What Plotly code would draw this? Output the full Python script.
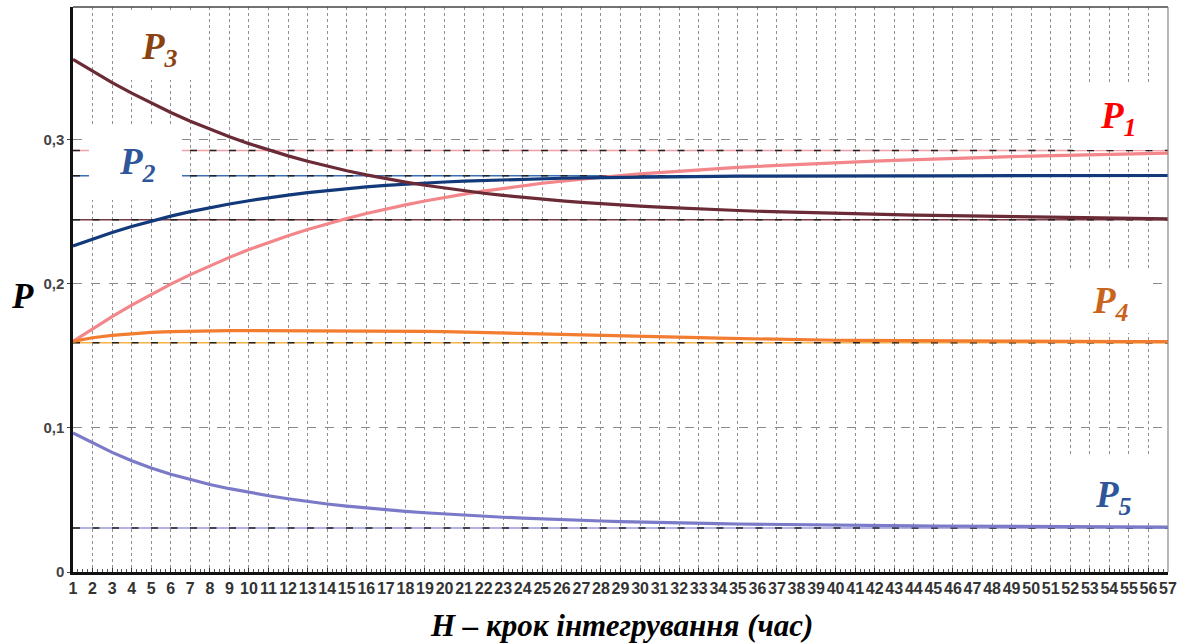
import plotly.graph_objects as go

steps = list(range(1, 58))

p1 = [0.1600, 0.1688, 0.1772, 0.1852, 0.1927, 0.1997, 0.2063, 0.2125, 0.2183, 0.2237,
      0.2287, 0.2333, 0.2376, 0.2416, 0.2453, 0.2487, 0.2518, 0.2547, 0.2574, 0.2599,
      0.2622, 0.2643, 0.2662, 0.2680, 0.2697, 0.2712, 0.2726, 0.2739, 0.2751, 0.2762,
      0.2772, 0.2782, 0.2791, 0.2799, 0.2807, 0.2814, 0.2821, 0.2828, 0.2834, 0.2840,
      0.2846, 0.2851, 0.2856, 0.2861, 0.2866, 0.2870, 0.2874, 0.2878, 0.2882, 0.2885,
      0.2888, 0.2891, 0.2894, 0.2897, 0.2900, 0.2903, 0.2906]

p2 = [0.2262, 0.2310, 0.2355, 0.2397, 0.2435, 0.2469, 0.2500, 0.2528, 0.2553, 0.2576,
      0.2597, 0.2615, 0.2632, 0.2647, 0.2660, 0.2672, 0.2682, 0.2691, 0.2699, 0.2706,
      0.2712, 0.2717, 0.2722, 0.2726, 0.2729, 0.2732, 0.2735, 0.2737, 0.2739, 0.2741,
      0.2742, 0.2743, 0.2744, 0.2745, 0.2746, 0.2746, 0.2747, 0.2747, 0.2748, 0.2748,
      0.2748, 0.2748, 0.2749, 0.2749, 0.2749, 0.2749, 0.2749, 0.2750, 0.2750, 0.2750,
      0.2750, 0.2750, 0.2750, 0.2751, 0.2751, 0.2751, 0.2751]

p3 = [0.3556, 0.3474, 0.3396, 0.3322, 0.3253, 0.3188, 0.3128, 0.3072, 0.3020, 0.2972,
      0.2928, 0.2887, 0.2850, 0.2815, 0.2784, 0.2755, 0.2729, 0.2705, 0.2683, 0.2663,
      0.2645, 0.2628, 0.2613, 0.2599, 0.2587, 0.2575, 0.2565, 0.2555, 0.2547, 0.2539,
      0.2532, 0.2525, 0.2519, 0.2513, 0.2508, 0.2503, 0.2499, 0.2495, 0.2491, 0.2488,
      0.2485, 0.2482, 0.2479, 0.2476, 0.2474, 0.2472, 0.2470, 0.2468, 0.2466, 0.2464,
      0.2462, 0.2460, 0.2458, 0.2456, 0.2454, 0.2452, 0.2450]

p4 = [0.1600, 0.1625, 0.1642, 0.1655, 0.1663, 0.1668, 0.1672, 0.1675, 0.1675, 0.1675,
      0.1675, 0.1675, 0.1675, 0.1675, 0.1675, 0.1675, 0.1674, 0.1672, 0.1670, 0.1668,
      0.1665, 0.1663, 0.1660, 0.1658, 0.1655, 0.1652, 0.1648, 0.1645, 0.1642, 0.1638,
      0.1634, 0.1630, 0.1626, 0.1622, 0.1619, 0.1616, 0.1614, 0.1612, 0.1610, 0.1608,
      0.1607, 0.1606, 0.1605, 0.1604, 0.1603, 0.1602, 0.1602, 0.1601, 0.1601, 0.1600,
      0.1600, 0.1599, 0.1599, 0.1599, 0.1598, 0.1598, 0.1598]

p5 = [0.0965, 0.0895, 0.0830, 0.0772, 0.0722, 0.0678, 0.0640, 0.0607, 0.0578, 0.0552,
      0.0529, 0.0508, 0.0489, 0.0472, 0.0457, 0.0444, 0.0432, 0.0421, 0.0411, 0.0402,
      0.0394, 0.0387, 0.0380, 0.0374, 0.0368, 0.0363, 0.0358, 0.0354, 0.0350, 0.0346,
      0.0343, 0.0340, 0.0337, 0.0335, 0.0333, 0.0331, 0.0329, 0.0327, 0.0326, 0.0324,
      0.0323, 0.0322, 0.0321, 0.0320, 0.0319, 0.0318, 0.0317, 0.0316, 0.0316, 0.0315,
      0.0314, 0.0314, 0.0313, 0.0313, 0.0312, 0.0312, 0.0311]

limits = [0.2924, 0.2750, 0.2444, 0.1590, 0.0306]
series_names = ["P1", "P2", "P3", "P4", "P5"]
y_tickvals = [0, 0.1, 0.2, 0.3]

curve_colors = ["#f3868a", "#12397a", "#6a2a36", "#f27c2f", "#7b7ac9"]
limit_colors = ["#f5a0a6", "#3a6eb5", "#7a3a44", "#f7b24a", "#9a98dc"]
label_colors = ["#ff0000", "#2f559a", "#8a4210", "#c8641c", "#2f559a"]

fig = go.Figure()
series = [p1, p2, p3, p4, p5]

# steady-state lines
for lim, lc in zip(limits, limit_colors):
    fig.add_trace(go.Scatter(x=[steps[0], steps[-1]], y=[lim, lim], mode="lines",
                             line=dict(color=lc, width=1.5), hoverinfo="skip", showlegend=False))
    fig.add_trace(go.Scatter(x=[steps[0], steps[-1]], y=[lim, lim], mode="lines",
                             line=dict(color="#222222", width=1.5, dash="7px,12.5px"),
                             hoverinfo="skip", showlegend=False))

for name, ys, c in zip(series_names, series, curve_colors):
    fig.add_trace(go.Scatter(x=steps, y=ys, mode="lines", name=name,
                             line=dict(color=c, width=3.2), showlegend=False))

L, R, T, B = 73, 1168, 7, 572
W, H = R - L, B - T

def px(xp):
    return (xp - L) / W

def py(yp):
    return (B - yp) / H

boxes = [  # white label boxes, pixels (x0, y0, x1, y1)
    (1073, 82, 1162, 150),
    (89, 127, 182, 200),
    (120, 12, 203, 80),
    (1063, 268, 1152, 333),
    (1067, 455, 1150, 523),
]
label_pos = [(1118, 118), (137, 164), (159, 49), (1110, 303), (1113, 497)]
sub_digits = ["1", "2", "3", "4", "5"]

shapes = []
for (x0, y0, x1, y1) in boxes:
    shapes.append(dict(type="rect", xref="paper", yref="paper",
                       x0=px(x0), x1=px(x1), y0=py(y1), y1=py(y0),
                       fillcolor="white", line=dict(width=0), layer="above"))
shapes.append(dict(type="line", xref="paper", yref="paper", x0=0, x1=1, y0=1, y1=1,
                   line=dict(color="#444444", width=1.5), layer="above"))
shapes.append(dict(type="line", xref="paper", yref="paper", x0=1, x1=1, y0=0, y1=1,
                   line=dict(color="#888888", width=1.2), layer="above"))

serif = "Liberation Serif, Times New Roman, serif"
annotations = []
for (lx, ly), d, c in zip(label_pos, sub_digits, label_colors):
    annotations.append(dict(
        xref="paper", yref="paper", x=px(lx), y=py(ly), showarrow=False,
        text="<b><i>P<sub>" + d + "</sub></i></b>",
        font=dict(family=serif, size=37, color=c),
        xanchor="center", yanchor="middle"))

annotations.append(dict(xref="paper", yref="paper", x=px(22), y=py(296), showarrow=False,
                        text="<b><i>P</i></b>",
                        font=dict(family=serif, size=35, color="black"),
                        xanchor="center", yanchor="middle"))
annotations.append(dict(xref="paper", yref="paper", x=px(621), y=py(625), showarrow=False,
                        text="<b><i>H – крок інтегрування (час)</i></b>",
                        font=dict(family=serif, size=31, color="black"),
                        xanchor="center", yanchor="middle"))

fig.update_layout(
    width=1179, height=644,
    margin=dict(l=L, r=1179 - R, t=T, b=644 - B, autoexpand=False),
    paper_bgcolor="white", plot_bgcolor="white",
    separators=", ",
    shapes=shapes, annotations=annotations,
    showlegend=False,
)

fig.update_xaxes(
    range=[steps[0], steps[-1]], tickmode="array", tickvals=steps,
    ticktext=[str(s) for s in steps], tickangle=0,
    tickfont=dict(family="Liberation Sans Narrow, Arial Narrow, Liberation Sans, Arial",
                  size=16, color="#333333", weight="bold"),
    showgrid=True, gridcolor="#8f8f8f", griddash="dot", gridwidth=1,
    showline=True, linecolor="#111111", linewidth=2.5,
    ticks="inside", ticklen=4, tickcolor="#333333",
    minor=dict(dtick=0.25, ticks="inside", ticklen=3, tickcolor="#555555", showgrid=False),
    zeroline=False, fixedrange=True, automargin=False,
)
fig.update_yaxes(
    range=[0, 0.392], tickmode="array", tickvals=y_tickvals,
    tickfont=dict(family="Liberation Sans, Arial", size=15, color="#444444", weight="bold"),
    showgrid=True, gridcolor="#8a8a8a", griddash="dash", gridwidth=1,
    showline=True, linecolor="#111111", linewidth=2.5,
    ticks="outside", ticklen=3, tickcolor="#444444",
    zeroline=False, fixedrange=True, automargin=False,
)

fig.write_html("out.html", config={"displayModeBar": False},
               post_script="document.body.style.margin='0';document.body.style.padding='0';")
